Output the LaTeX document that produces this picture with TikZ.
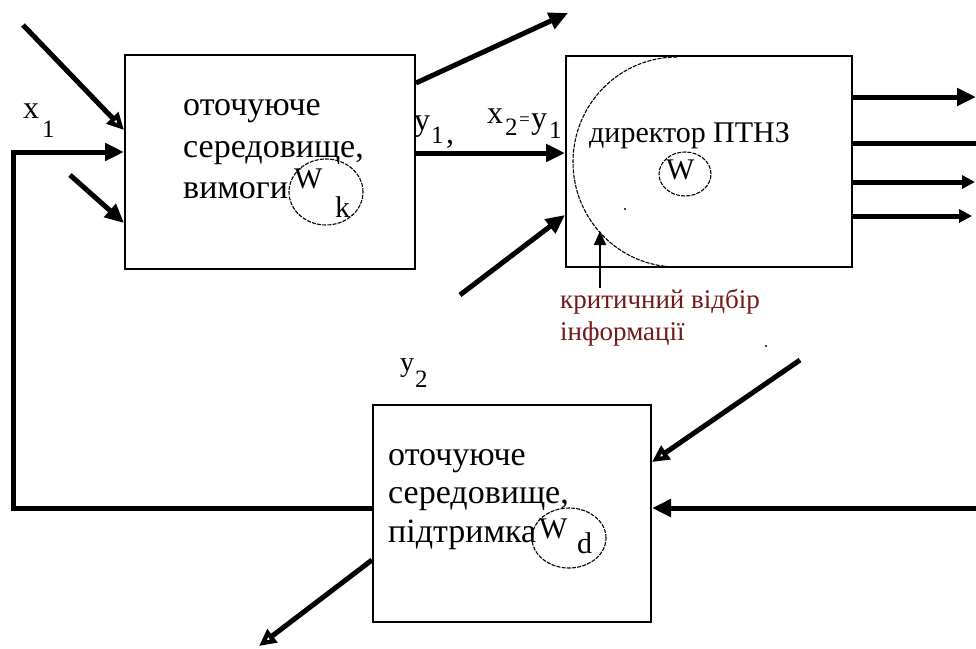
\documentclass[tikz,border=0pt]{standalone}
\usepackage{fontspec}
\setmainfont{Liberation Serif}
\usetikzlibrary{arrows.meta,shapes.geometric}
\definecolor{critred}{RGB}{115,25,25}
\tikzset{
  box/.style={draw, line width=2pt, inner sep=0pt},
  fat/.style={line width=5pt},
  fatarrow/.style={fat, -{Triangle[length=19pt,width=17pt]}},
  hollowarrow/.style={fat, -{Triangle[open,length=17pt,width=16pt]}},
  smallarrow/.style={fat, -{Triangle[length=13pt,width=13pt]}},
  thinarrow/.style={line width=2pt, -{Triangle[length=14pt,width=12pt]}},
  txt/.style={anchor=base west, inner sep=0pt, font=\fontsize{34}{40}\selectfont},
  lbl/.style={anchor=base west, inner sep=0pt, font=\fontsize{32}{36}\selectfont},
  sublbl/.style={anchor=base west, inner sep=0pt, font=\fontsize{25}{28}\selectfont},
  wlbl/.style={anchor=base west, inner sep=0pt, font=\fontsize{30}{32}\selectfont},
  ring/.style={draw, ellipse, inner sep=0pt, line width=1.1pt, dash pattern=on 4pt off 1.2pt},
  crit/.style={anchor=base west, inner sep=0pt, text=critred, font=\fontsize{27}{30}\selectfont},
}
\begin{document}
\begin{tikzpicture}[x=1pt,y=-1pt]
\useasboundingbox (0,0) rectangle (976,648);

% boxes
\node[box, minimum width=290pt, minimum height=214pt] (b1) at (270,162) {};
\node[box, minimum width=286pt, minimum height=211pt] (b2) at (709,161.5) {};
\node[box, minimum width=278pt, minimum height=217pt] (b3) at (512,513.5) {};

% box 1 text
\node[txt] (t1a) at (183,115) {оточуюче};
\node[txt] (t1b) at (183,157) {середовище,};
\node[txt] (t1c) at (183,198) {вимоги};
\node[ring, minimum width=74pt, minimum height=66pt] (wk) at (326,192) {};
\node[wlbl] (wkW) at (294,188) {W};
\node[wlbl] (wkk) at (335,217) {k};

% box 2 text
\draw[line width=1.1pt, dash pattern=on 4pt off 1.2pt] (677,57) arc[start angle=90, end angle=270, x radius=104, y radius=-105];
\node[anchor=base west, inner sep=0pt, font=\fontsize{30}{34}\selectfont] (t2) at (589,142) {директор ПТНЗ};
\node[ring, minimum width=52pt, minimum height=44pt] (w) at (685,174) {};
\node[wlbl] (wW) at (666,179) {W};
\fill (625,209) circle[radius=1.2];
\fill (766,346) circle[radius=1.2];

% box 3 text
\node[txt] (t3a) at (388,465) {оточуюче};
\node[txt] (t3b) at (388,503) {середовище,};
\node[txt] (t3c) at (388,542) {підтримка};
\node[ring, minimum width=74pt, minimum height=60pt] (wd) at (569,538) {};
\node[wlbl] (wdW) at (539,538) {W};
\node[wlbl] (wdd) at (577,553) {d};

% labels
\node[lbl] (x1) at (23,118) {x};
\node[sublbl] (x1s) at (42,137) {1};
\node[lbl] (y1) at (414,130) {y};
\node[sublbl] (y1s) at (431,143) {1};
\node[lbl] (y1c) at (446,143) {,};
\node[lbl] (x2) at (487,123) {x};
\node[sublbl] (x2s) at (505,135) {2};
\node[anchor=base west, inner sep=0pt, font=\fontsize{19}{20}\selectfont] (x2e) at (519,125) {=};
\node[lbl] (x2y) at (531,128) {y};
\node[sublbl] (x2ys) at (549,138) {1};
\node[anchor=base west, inner sep=0pt, font=\fontsize{28}{32}\selectfont] (y2) at (400,371) {y};
\node[sublbl] (y2s) at (415,387) {2};

% critical selection
\node[crit] (c1) at (560,308) {критичний відбір};
\node[crit] (c2) at (560,340) {інформації};
\coordinate (cs) at (600,288);
\coordinate (ce) at (600,231);
\draw[thinarrow] (cs) -- (ce);

% arrows around box 1
\coordinate (a1s) at (23,25);
\draw[hollowarrow] (a1s) -- (b1.west |- 0,130);
\coordinate (a3s) at (70,175);
\draw[fatarrow] (a3s) -- (b1.west |- 0,223);
\coordinate (fb1) at (13.5,508);
\coordinate (fb2) at (13.5,152);
\draw[fatarrow] (b3.west |- 0,508) -- (fb1) -- (fb2) -- (b1.west |- 0,152);
\coordinate (up) at (568,13);
\draw[fatarrow] (b1.east |- 0,83) -- (up);
\draw[fatarrow] (b1.east |- 0,153) -- (b2.west |- 0,153);

% arrows around box 2
\coordinate (a6s) at (460,295);
\draw[fatarrow] (a6s) -- (b2.west |- 0,215);
\coordinate (o1) at (976,97);
\coordinate (o2) at (976,143);
\coordinate (o3) at (975,182);
\coordinate (o4) at (972,216);
\draw[fatarrow] (b2.east |- 0,97) -- (o1);
\draw[fat] (b2.east |- 0,143) -- (o2);
\draw[smallarrow] (b2.east |- 0,182) -- (o3);
\draw[smallarrow] (b2.east |- 0,216) -- (o4);

% arrows around box 3
\coordinate (a12s) at (800,360);
\draw[hollowarrow] (a12s) -- (b3.east |- 0,462);
\coordinate (a13s) at (976,508);
\draw[fatarrow] (a13s) -- (b3.east |- 0,508);
\coordinate (a14e) at (259,646);
\draw[hollowarrow] (b3.west |- 0,560) -- (a14e);
\end{tikzpicture}
\end{document}
